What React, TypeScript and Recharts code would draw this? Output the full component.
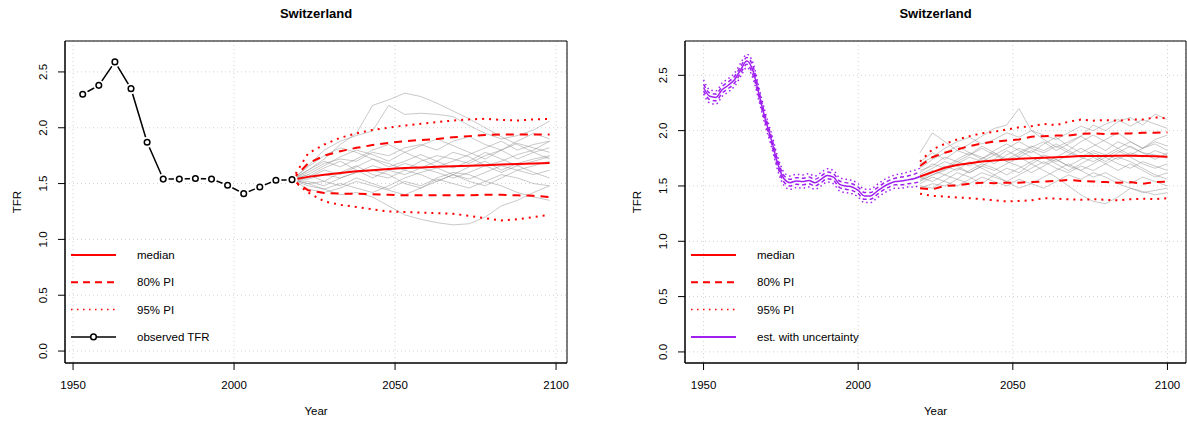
import React from "react";
import {
  CartesianGrid,
  Line,
  LineChart,
  ReferenceArea,
  XAxis,
  YAxis,
} from "recharts";

const FONT = '"Liberation Sans", Arial, Helvetica, sans-serif';
const GRID = "#d3d3d3";
const RED = "#ff0000";
const PURPLE = "#a020f0";

const X_TICKS = [1950, 2000, 2050, 2100];
const Y_TICKS = [0, 0.5, 1, 1.5, 2, 2.5];

// ---- left panel: observed 5-year TFR + projection ----
const OBS_YEARS = [1953, 1958, 1963, 1968, 1973, 1978, 1983, 1988, 1993, 1998, 2003, 2008, 2013, 2018];
const OBS_TFR = [2.3, 2.38, 2.59, 2.35, 1.87, 1.54, 1.54, 1.545, 1.54, 1.485, 1.41, 1.47, 1.53, 1.535];

const L_YEARS = [2018, 2023, 2028, 2033, 2038, 2043, 2048, 2053, 2058, 2063, 2068, 2073, 2078, 2083, 2088, 2093, 2098];
const L_MEDIAN = [1.535, 1.56, 1.58, 1.595, 1.61, 1.62, 1.63, 1.64, 1.645, 1.65, 1.655, 1.66, 1.665, 1.67, 1.675, 1.68, 1.685];
const L_PI80_HI = [1.535, 1.68, 1.75, 1.79, 1.82, 1.845, 1.865, 1.88, 1.89, 1.9, 1.915, 1.925, 1.935, 1.94, 1.94, 1.94, 1.94];
const L_PI80_LO = [1.535, 1.44, 1.415, 1.41, 1.41, 1.405, 1.4, 1.395, 1.395, 1.395, 1.395, 1.395, 1.4, 1.4, 1.395, 1.39, 1.38];
const L_PI95_HI = [1.535, 1.77, 1.85, 1.91, 1.95, 1.98, 2.0, 2.02, 2.035, 2.05, 2.065, 2.075, 2.08, 2.07, 2.065, 2.075, 2.08];
const L_PI95_LO = [1.535, 1.42, 1.34, 1.31, 1.29, 1.27, 1.25, 1.245, 1.24, 1.235, 1.23, 1.21, 1.19, 1.17, 1.18, 1.2, 1.22];

const L_TRAJ = [
  [1.535, 1.62, 1.72, 1.85, 1.95, 2.2, 2.25, 2.31, 2.28, 2.22, 2.15, 2.08, 2.0, 1.92, 1.85, 1.78, 1.72],
  [1.535, 1.66, 1.8, 1.88, 1.93, 1.97, 2.2, 2.12, 2.13, 2.12, 2.1, 2.02, 1.95, 1.9, 1.93, 1.98, 2.06],
  [1.535, 1.48, 1.45, 1.4, 1.42, 1.38, 1.3, 1.22, 1.18, 1.15, 1.13, 1.14, 1.2, 1.3, 1.35, 1.42, 1.48],
  [1.535, 1.5, 1.52, 1.48, 1.55, 1.5, 1.45, 1.52, 1.48, 1.55, 1.6, 1.58, 1.52, 1.48, 1.42, 1.38, 1.35],
  [1.535, 1.6, 1.68, 1.72, 1.7, 1.78, 1.75, 1.82, 1.85, 1.8, 1.88, 1.92, 1.85, 1.8, 1.88, 1.95, 1.9],
  [1.535, 1.55, 1.62, 1.58, 1.65, 1.72, 1.68, 1.62, 1.7, 1.75, 1.72, 1.68, 1.75, 1.8, 1.72, 1.78, 1.82],
  [1.535, 1.58, 1.52, 1.6, 1.66, 1.58, 1.55, 1.62, 1.58, 1.52, 1.58, 1.65, 1.7, 1.62, 1.68, 1.72, 1.75],
  [1.535, 1.52, 1.48, 1.55, 1.6, 1.62, 1.58, 1.5, 1.46, 1.52, 1.58, 1.54, 1.6, 1.66, 1.62, 1.58, 1.62],
  [1.535, 1.62, 1.7, 1.65, 1.72, 1.8, 1.85, 1.78, 1.72, 1.65, 1.7, 1.76, 1.82, 1.88, 1.8, 1.85, 1.88],
  [1.535, 1.5, 1.45, 1.5, 1.46, 1.42, 1.48, 1.55, 1.6, 1.64, 1.58, 1.52, 1.48, 1.55, 1.62, 1.66, 1.7],
  [1.535, 1.65, 1.75, 1.82, 1.78, 1.72, 1.65, 1.7, 1.76, 1.7, 1.64, 1.7, 1.78, 1.72, 1.66, 1.7, 1.74],
  [1.535, 1.56, 1.64, 1.7, 1.62, 1.55, 1.62, 1.68, 1.64, 1.7, 1.78, 1.74, 1.66, 1.6, 1.66, 1.6, 1.55],
  [1.535, 1.45, 1.42, 1.46, 1.52, 1.48, 1.44, 1.4, 1.46, 1.54, 1.5, 1.46, 1.52, 1.58, 1.55, 1.5, 1.48],
  [1.535, 1.58, 1.66, 1.74, 1.8, 1.76, 1.7, 1.78, 1.84, 1.9, 1.84, 1.78, 1.72, 1.8, 1.86, 1.82, 1.78],
  [1.535, 1.54, 1.58, 1.55, 1.6, 1.66, 1.62, 1.58, 1.64, 1.6, 1.55, 1.6, 1.66, 1.7, 1.76, 1.8, 1.88],
];

// ---- right panel: estimated TFR with uncertainty + projection ----
const EST_YEARS = [1950, 1952, 1954, 1956, 1958, 1960, 1962, 1964, 1966, 1968, 1970, 1972, 1974, 1976, 1978, 1980, 1982, 1984, 1986, 1988, 1990, 1992, 1994, 1996, 1998, 2000, 2002, 2004, 2006, 2008, 2010, 2012, 2014, 2016, 2018, 2020];
const EST_MED = [2.39, 2.31, 2.3, 2.37, 2.41, 2.46, 2.55, 2.63, 2.54, 2.32, 2.1, 1.91, 1.7, 1.565, 1.53, 1.545, 1.54, 1.55, 1.53, 1.56, 1.595, 1.58, 1.515, 1.5, 1.49, 1.46, 1.41, 1.41, 1.45, 1.49, 1.52, 1.54, 1.545, 1.555, 1.565, 1.585];
const EST_80_HI = [2.42, 2.34, 2.33, 2.4, 2.44, 2.49, 2.58, 2.66, 2.58, 2.35, 2.13, 1.94, 1.73, 1.595, 1.56, 1.575, 1.57, 1.58, 1.56, 1.59, 1.625, 1.61, 1.545, 1.53, 1.52, 1.49, 1.44, 1.44, 1.48, 1.52, 1.55, 1.57, 1.58, 1.59, 1.605, 1.63];
const EST_80_LO = [2.36, 2.28, 2.27, 2.34, 2.38, 2.43, 2.52, 2.6, 2.5, 2.29, 2.07, 1.88, 1.67, 1.535, 1.5, 1.515, 1.51, 1.52, 1.5, 1.53, 1.565, 1.55, 1.485, 1.47, 1.46, 1.43, 1.38, 1.38, 1.42, 1.46, 1.49, 1.51, 1.51, 1.52, 1.525, 1.54];
const EST_95_HI = [2.46, 2.37, 2.36, 2.43, 2.47, 2.52, 2.61, 2.69, 2.61, 2.38, 2.16, 1.97, 1.76, 1.625, 1.59, 1.605, 1.6, 1.61, 1.59, 1.62, 1.655, 1.64, 1.575, 1.56, 1.55, 1.52, 1.47, 1.47, 1.51, 1.55, 1.58, 1.6, 1.61, 1.625, 1.64, 1.66];
const EST_95_LO = [2.33, 2.25, 2.24, 2.31, 2.35, 2.4, 2.49, 2.57, 2.47, 2.26, 2.04, 1.85, 1.64, 1.505, 1.47, 1.485, 1.48, 1.49, 1.47, 1.5, 1.535, 1.52, 1.455, 1.44, 1.43, 1.4, 1.35, 1.35, 1.39, 1.43, 1.46, 1.48, 1.48, 1.49, 1.49, 1.51];

const R_YEARS = [2020, 2024, 2028, 2032, 2036, 2040, 2044, 2048, 2052, 2056, 2060, 2064, 2068, 2072, 2076, 2080, 2084, 2088, 2092, 2096, 2100];
const R_MEDIAN = [1.585, 1.625, 1.665, 1.69, 1.705, 1.72, 1.73, 1.74, 1.745, 1.75, 1.755, 1.76, 1.765, 1.77, 1.77, 1.77, 1.772, 1.772, 1.77, 1.768, 1.765];
const R_PI80_HI = [1.68, 1.76, 1.8, 1.83, 1.86, 1.885, 1.9, 1.91, 1.92, 1.945, 1.95, 1.955, 1.955, 1.97, 1.975, 1.97, 1.975, 1.975, 1.98, 1.98, 1.985];
const R_PI80_LO = [1.48, 1.47, 1.5, 1.505, 1.52, 1.53, 1.525, 1.53, 1.53, 1.535, 1.54, 1.545, 1.555, 1.545, 1.54, 1.535, 1.53, 1.535, 1.52, 1.535, 1.54];
const R_PI95_HI = [1.72, 1.83, 1.88, 1.92, 1.95, 1.975, 1.99, 2.01, 2.03, 2.04, 2.06, 2.05, 2.08, 2.1, 2.09, 2.095, 2.09, 2.1, 2.1, 2.12, 2.11];
const R_PI95_LO = [1.43, 1.41, 1.405, 1.395, 1.39, 1.38, 1.37, 1.36, 1.365, 1.37, 1.39, 1.385, 1.38, 1.375, 1.38, 1.375, 1.37, 1.38, 1.385, 1.38, 1.39];

const R_TRAJ = [
  [1.8, 1.98, 1.9, 1.82, 1.88, 1.95, 2.02, 2.05, 2.2, 2.0, 1.92, 1.85, 1.9, 1.95, 1.88, 1.82, 1.9, 1.85, 1.8, 1.78, 1.75],
  [1.55, 1.6, 1.65, 1.72, 1.68, 1.75, 1.8, 1.72, 1.78, 1.85, 1.9, 1.82, 1.88, 1.95, 2.05, 2.0, 2.08, 2.12, 2.05, 2.15, 2.1],
  [1.5, 1.48, 1.55, 1.62, 1.58, 1.52, 1.6, 1.66, 1.62, 1.7, 1.64, 1.58, 1.5, 1.42, 1.36, 1.34, 1.4, 1.48, 1.45, 1.42, 1.44],
  [1.62, 1.7, 1.66, 1.74, 1.8, 1.76, 1.7, 1.78, 1.84, 1.8, 1.88, 1.94, 1.86, 1.8, 1.86, 1.92, 1.98, 1.9, 1.84, 1.9, 1.86],
  [1.58, 1.54, 1.6, 1.56, 1.64, 1.7, 1.66, 1.6, 1.66, 1.72, 1.78, 1.74, 1.68, 1.74, 1.8, 1.76, 1.7, 1.66, 1.72, 1.68, 1.64],
  [1.66, 1.74, 1.8, 1.86, 1.8, 1.74, 1.82, 1.88, 1.82, 1.76, 1.7, 1.76, 1.82, 1.9, 1.96, 1.9, 1.84, 1.78, 1.84, 1.92, 1.96],
  [1.52, 1.58, 1.54, 1.5, 1.56, 1.62, 1.58, 1.54, 1.48, 1.52, 1.58, 1.64, 1.7, 1.64, 1.58, 1.62, 1.56, 1.52, 1.58, 1.54, 1.5],
  [1.6, 1.66, 1.72, 1.68, 1.62, 1.68, 1.74, 1.82, 1.76, 1.7, 1.76, 1.72, 1.78, 1.84, 1.78, 1.72, 1.8, 1.86, 1.8, 1.74, 1.8],
  [1.56, 1.62, 1.68, 1.64, 1.72, 1.66, 1.6, 1.54, 1.6, 1.66, 1.72, 1.66, 1.62, 1.68, 1.64, 1.7, 1.76, 1.72, 1.66, 1.6, 1.56],
  [1.7, 1.76, 1.84, 1.9, 1.94, 1.88, 1.92, 1.98, 1.94, 2.0, 1.96, 1.92, 1.98, 2.04, 2.0, 2.06, 2.1, 2.04, 2.1, 2.06, 2.02],
  [1.48, 1.52, 1.5, 1.56, 1.52, 1.58, 1.54, 1.5, 1.56, 1.52, 1.48, 1.54, 1.6, 1.56, 1.62, 1.58, 1.52, 1.48, 1.44, 1.46, 1.48],
  [1.64, 1.68, 1.76, 1.72, 1.78, 1.84, 1.78, 1.84, 1.9, 1.84, 1.8, 1.86, 1.8, 1.76, 1.82, 1.78, 1.74, 1.8, 1.76, 1.82, 1.78],
  [1.54, 1.6, 1.64, 1.7, 1.76, 1.72, 1.78, 1.72, 1.68, 1.62, 1.68, 1.74, 1.68, 1.64, 1.7, 1.76, 1.82, 1.76, 1.7, 1.66, 1.7],
  [1.58, 1.64, 1.6, 1.66, 1.62, 1.68, 1.64, 1.7, 1.76, 1.82, 1.76, 1.7, 1.64, 1.7, 1.76, 1.7, 1.64, 1.7, 1.64, 1.58, 1.62],
  [1.72, 1.8, 1.74, 1.82, 1.78, 1.86, 1.8, 1.74, 1.8, 1.86, 1.82, 1.88, 1.82, 1.76, 1.72, 1.78, 1.84, 1.9, 1.84, 1.88, 1.82],
];

const pts = (years: number[], vals: number[]) => years.map((year, i) => ({ year, v: vals[i] }));

const AXIS_W = 30; // room kept for the y axis inside the left margin
const AXIS_H = 30; // room kept for the x axis inside the bottom margin
const TRAJ_OPACITY = 0.45;

const XTick = (p: any) => (
  <text x={p.x} y={389} textAnchor="middle" fontSize={11.5} fontFamily={FONT} fill="#000">
    {p.payload.value}
  </text>
);

const makeYTick = (tx: number) => (p: any) => (
  <text
    x={tx}
    y={p.y}
    transform={`rotate(-90 ${tx} ${p.y})`}
    textAnchor="middle"
    fontSize={11.5}
    fontFamily={FONT}
    fill="#000"
  >
    {Number(p.payload.value).toFixed(1)}
  </text>
);

const ObsDot = (p: any) => (
  <g key={`obs-${p.index}`}>
    <circle cx={p.cx} cy={p.cy} r={5.5} fill="#fff" />
    <circle cx={p.cx} cy={p.cy} r={2.8} fill="#fff" stroke="#000" strokeWidth={1.5} />
  </g>
);

type LegendItem = { label: string; color: string; dash?: string; width: number; dot?: boolean };

const LEFT_LEGEND: LegendItem[] = [
  { label: "median", color: RED, width: 2 },
  { label: "80% PI", color: RED, dash: "7 5", width: 2 },
  { label: "95% PI", color: RED, dash: "1.5 4.5", width: 1.5 },
  { label: "observed TFR", color: "#000", width: 1.5, dot: true },
];
const RIGHT_LEGEND: LegendItem[] = [
  { label: "median", color: RED, width: 2 },
  { label: "80% PI", color: RED, dash: "7 5", width: 2 },
  { label: "95% PI", color: RED, dash: "1.5 4.5", width: 1.5 },
  { label: "est. with uncertainty", color: PURPLE, width: 2 },
];

function Overlay({ w, plotL, plotR, lx, items }: { w: number; plotL: number; plotR: number; lx: number; items: LegendItem[] }) {
  const cx = (plotL + plotR) / 2;
  const tfrX = plotL - 44;
  return (
    <svg width={w} height={421} style={{ position: "absolute", left: 0, top: 0, pointerEvents: "none" }} fontFamily={FONT}>
      <text x={cx} y={18} textAnchor="middle" fontSize={13} fontWeight="bold">Switzerland</text>
      <text x={cx} y={415} textAnchor="middle" fontSize={11.5}>Year</text>
      <text x={tfrX} y={202} transform={`rotate(-90 ${tfrX} 202)`} textAnchor="middle" fontSize={11.5}>TFR</text>
      {items.map((it, i) => {
        const y = 255 + i * 27.3;
        return (
          <g key={it.label}>
            <line x1={lx} x2={lx + 45} y1={y} y2={y} stroke={it.color} strokeWidth={it.width} strokeDasharray={it.dash} />
            {it.dot && <circle cx={lx + 22.5} cy={y} r={2.8} fill="#fff" stroke="#000" strokeWidth={1.5} />}
            <text x={lx + 66} y={y} dominantBaseline="central" fontSize={11.5}>{it.label}</text>
          </g>
        );
      })}
    </svg>
  );
}

function Panel({
  left, width, plot, xDomain, yDomain, children, legend, legendX,
}: {
  left: number; width: number; plot: { l: number; r: number; t: number; b: number };
  xDomain: [number, number]; yDomain: [number, number]; children: React.ReactNode; legend: LegendItem[]; legendX: number;
}) {
  const margin = {
    top: plot.t,
    right: width - plot.r,
    bottom: 421 - plot.b - AXIS_H,
    left: plot.l - AXIS_W,
  };
  return (
    <div style={{ position: "absolute", left, top: 0, width, height: 421 }}>
      <LineChart width={width} height={421} margin={margin}>
        <CartesianGrid stroke={GRID} strokeDasharray="1 3" />
        <XAxis
          type="number"
          dataKey="year"
          domain={xDomain}
          ticks={X_TICKS}
          allowDataOverflow
          height={AXIS_H}
          tickSize={7}
          tick={XTick}
          axisLine={{ stroke: "#000" }}
          tickLine={{ stroke: "#000" }}
        />
        <YAxis
          type="number"
          domain={yDomain}
          ticks={Y_TICKS}
          allowDataOverflow
          width={AXIS_W}
          tickSize={7}
          tick={makeYTick(plot.l - 18)}
          axisLine={{ stroke: "#000" }}
          tickLine={{ stroke: "#000" }}
        />
        {children}
        <ReferenceArea
          x1={xDomain[0]}
          x2={xDomain[1]}
          y1={yDomain[0]}
          y2={yDomain[1]}
          fill="none"
          fillOpacity={0}
          stroke="#000"
          strokeWidth={1}
        />
      </LineChart>
      <Overlay w={width} plotL={plot.l} plotR={plot.r} lx={legendX} items={legend} />
    </div>
  );
}

const line = (key: string, data: any[], stroke: string, width: number, dash?: string, opacity = 1, type: any = "linear") => (
  <Line
    key={key}
    data={data}
    dataKey="v"
    type={type}
    stroke={stroke}
    strokeWidth={width}
    strokeDasharray={dash}
    strokeOpacity={opacity}
    dot={false}
    activeDot={false}
    isAnimationActive={false}
  />
);

export default function App() {
  return (
    <div style={{ position: "absolute", left: 0, top: 0, width: 1187, height: 421, background: "#fff" }}>
      <Panel
        left={0}
        width={593}
        plot={{ l: 65, r: 567, t: 41, b: 363 }}
        xDomain={[1947.5, 2103.4]}
        yDomain={[-0.107, 2.777]}
        legend={LEFT_LEGEND}
        legendX={71}
      >
        <Line
          data={pts(OBS_YEARS, OBS_TFR)}
          dataKey="v"
          type="linear"
          stroke="#000"
          strokeWidth={1.5}
          dot={ObsDot}
          activeDot={false}
          isAnimationActive={false}
        />
        {L_TRAJ.map((t, i) => line(`lt${i}`, pts(L_YEARS, t), "#888", 1, undefined, TRAJ_OPACITY))}
        {line("l95h", pts(L_YEARS, L_PI95_HI), RED, 2, "2 5")}
        {line("l95l", pts(L_YEARS, L_PI95_LO), RED, 2, "2 5")}
        {line("l80h", pts(L_YEARS, L_PI80_HI), RED, 2, "8 6")}
        {line("l80l", pts(L_YEARS, L_PI80_LO), RED, 2, "8 6")}
        {line("lmed", pts(L_YEARS, L_MEDIAN), RED, 2)}
      </Panel>
      <Panel
        left={593}
        width={594}
        plot={{ l: 92, r: 593, t: 41, b: 363 }}
        xDomain={[1944, 2106]}
        yDomain={[-0.1, 2.81]}
        legend={RIGHT_LEGEND}
        legendX={98}
      >
        {R_TRAJ.map((t, i) => line(`rt${i}`, pts(R_YEARS, t), "#888", 1, undefined, TRAJ_OPACITY))}
        {line("e95h", pts(EST_YEARS, EST_95_HI), PURPLE, 1.5, "1.5 3", 1, "monotone")}
        {line("e95l", pts(EST_YEARS, EST_95_LO), PURPLE, 1.5, "1.5 3", 1, "monotone")}
        {line("e80h", pts(EST_YEARS, EST_80_HI), PURPLE, 1.5, "4 3", 1, "monotone")}
        {line("e80l", pts(EST_YEARS, EST_80_LO), PURPLE, 1.5, "4 3", 1, "monotone")}
        {line("emed", pts(EST_YEARS, EST_MED), PURPLE, 1.5, undefined, 1, "monotone")}
        {line("r95h", pts(R_YEARS, R_PI95_HI), RED, 2, "2 5")}
        {line("r95l", pts(R_YEARS, R_PI95_LO), RED, 2, "2 5")}
        {line("r80h", pts(R_YEARS, R_PI80_HI), RED, 2, "8 6")}
        {line("r80l", pts(R_YEARS, R_PI80_LO), RED, 2, "8 6")}
        {line("rmed", pts(R_YEARS, R_MEDIAN), RED, 2)}
      </Panel>
    </div>
  );
}
